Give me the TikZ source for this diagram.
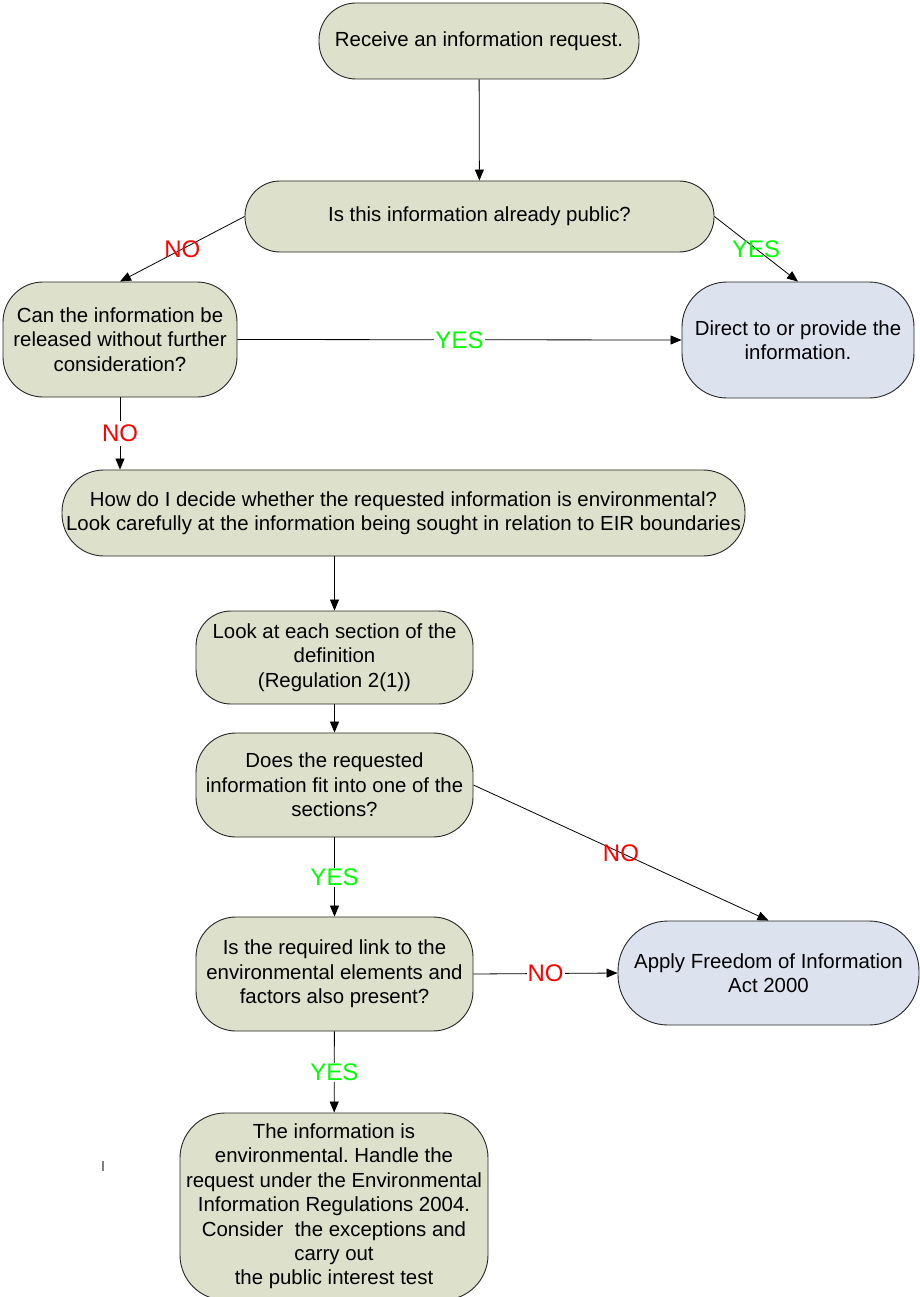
\documentclass[tikz,border=0pt]{standalone}
\usepackage{fontspec}
\setmainfont{Liberation Sans}
\usetikzlibrary{arrows.meta, positioning}
\definecolor{boxgreen}{HTML}{DDE0CB}
\definecolor{boxblue}{HTML}{DCE3EF}
\definecolor{yesgreen}{HTML}{00FF00}
\frenchspacing

\tikzset{
  stepbox/.style={draw=black!85, line width=0.9pt, fill=boxgreen, align=center,
    inner sep=0pt, font=\fontsize{20.4}{24.4}\selectfont},
  endbox/.style={stepbox, fill=boxblue},
  flow/.style={-{Triangle[length=11pt,width=9pt]}, line width=0.8pt},
  lblyes/.style={text=yesgreen, font=\fontsize{24}{28}\selectfont, inner sep=1pt},
  lblno/.style={text=red, font=\fontsize{24}{28}\selectfont, inner sep=1pt},
  gap/.style={fill=white},
}

\begin{document}
\begin{tikzpicture}[x=1pt, y=-1pt]
  \useasboundingbox (0,0) rectangle (919,1297);

  % Boxes
  \node[stepbox, minimum width=320pt, minimum height=76pt, rounded corners=37pt] (recv) at (479,41)
    {Receive an information request.};
  \node[stepbox, minimum width=469pt, minimum height=71pt, rounded corners=35pt] (public) at (479.5,216.5)
    {Is this information already public?};
  \node[stepbox, minimum width=234pt, minimum height=115pt, rounded corners=40pt] (release) at (120,339.5)
    {Can the information be\\released without further\\consideration?};
  \node[endbox, minimum width=232pt, minimum height=116pt, rounded corners=45pt] (provide) at (798,340)
    {Direct to or provide the\\information.};
  \node[stepbox, minimum width=683pt, minimum height=86pt, rounded corners=42pt] (decide) at (403.5,513)
    {How do I decide whether the requested information is environmental?\\
     Look carefully at the information being sought in relation to EIR boundaries};
  \node[stepbox, minimum width=277pt, minimum height=93pt, rounded corners=35pt] (section) at (334.5,657.5)
    {Look at each section of the\\definition\\(Regulation 2(1))};
  \node[stepbox, minimum width=277pt, minimum height=104pt, rounded corners=40pt] (fits) at (334.5,785)
    {Does the requested\\information fit into one of the\\sections?};
  \node[stepbox, minimum width=277pt, minimum height=114pt, rounded corners=40pt] (required) at (334.5,974)
    {Is the required link to the\\environmental elements and\\factors also present?};
  \node[endbox, minimum width=301pt, minimum height=104pt, rounded corners=50pt] (foia) at (768.5,973)
    {Apply Freedom of Information\\Act 2000};
  \node[stepbox, minimum width=308pt, minimum height=187pt, rounded corners=45pt] (envir) at (334,1206.5)
    {The information is\\environmental. Handle the\\request under the Environmental\\
     Information Regulations 2004.\\Consider\ \ the exceptions and\\carry out\\the public interest test};

  % Connectors
  \draw[flow] (recv) -- (public);
  \draw[flow] (public.west) -- node[lblno] {NO} (release.north);
  \draw[flow] (public.east) -- node[lblyes] {YES} (provide.north);
  \draw[flow] (release.east) -- node[lblyes, gap] {YES} (provide.west);
  \draw[flow] (release.south) -- node[lblno, gap, inner ysep=4pt] {NO} (release.south |- decide.north);
  \draw[flow] (section.north |- decide.south) -- (section.north);
  \draw[flow] (section) -- (fits);
  \draw[flow] (fits.east) -- node[lblno] {NO} (foia.north);
  \draw[flow] (fits) -- node[lblyes, gap] {YES} (required);
  \draw[flow] (required.east) -- node[lblno, gap] {NO} (foia.west);
  \draw[flow] (required) -- node[lblyes, gap] {YES} (envir);

  % stray mark
  \draw[gray, line width=1.3pt] (103,1161) -- (103,1171);
\end{tikzpicture}
\end{document}
